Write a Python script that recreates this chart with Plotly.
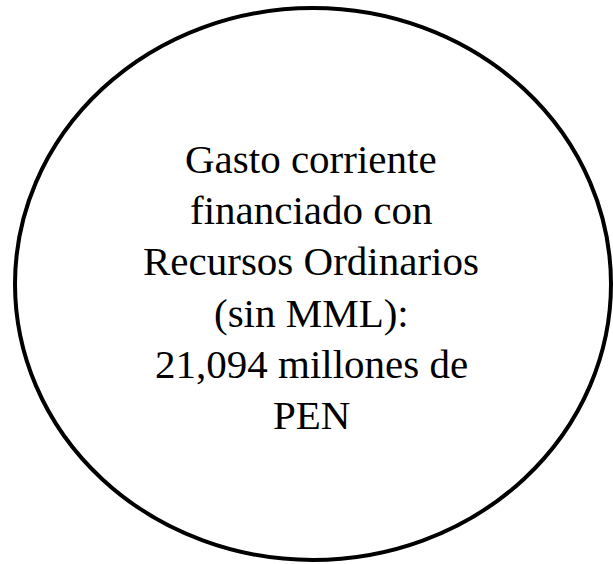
import plotly.graph_objects as go

# Text content (one entry per line)
lines = [
    "Gasto corriente",
    "financiado con",
    "Recursos Ordinarios",
    "(sin MML):",
    "21,094 millones de",
    "PEN",
]

W, H = 613, 564
FONT_SIZE = 41
FIRST_BASELINE = 172.5
LINE_STEP = 51.3

fig = go.Figure()

fig.add_shape(
    type="circle", xref="x", yref="y",
    x0=15, x1=611, y0=8, y1=560,
    line=dict(color="black", width=4),
    fillcolor="rgba(0,0,0,0)",
)

for i, t in enumerate(lines):
    baseline = FIRST_BASELINE + i * LINE_STEP
    fig.add_annotation(
        x=311, y=baseline - 13.8, xref="x", yref="y",
        text=t, showarrow=False,
        xanchor="center", yanchor="middle",
        font=dict(family="Liberation Serif, Times New Roman, serif", size=FONT_SIZE, color="black"),
    )

fig.update_xaxes(range=[0, W], visible=False, fixedrange=True)
fig.update_yaxes(range=[H, 0], visible=False, fixedrange=True)
fig.update_layout(
    width=W, height=H,
    margin=dict(l=0, r=0, t=0, b=0),
    paper_bgcolor="white", plot_bgcolor="white",
    showlegend=False,
)

fig.write_html(
    "out.html",
    config={"displayModeBar": False},
    post_script="document.body.style.margin='0';document.body.style.overflow='hidden';",
)
